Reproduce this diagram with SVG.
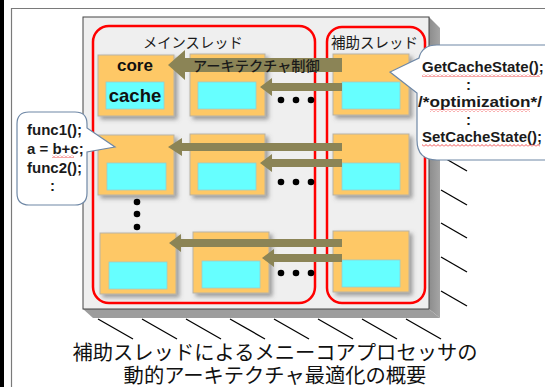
<svg xmlns="http://www.w3.org/2000/svg" width="545" height="387" viewBox="0 0 545 387">
<style>
.core{fill:#fec866;stroke:#b9b3a6;stroke-width:1}
.cache{fill:#66ffff;stroke:#9cc;stroke-width:0.8}
.thr{fill:none;stroke:#ff0000;stroke-width:2.5}
.arr{fill:#8b8456}
.dot{fill:#000}
.hatch{stroke:#000;stroke-width:1.3}
.jp{font-family:"Noto Sans CJK JP","Noto Sans",sans-serif;fill:#1a1a1a}
.code{font-family:"Liberation Sans",Arial,sans-serif;font-weight:bold;font-size:15px;fill:#1a1a1a}
.lbl{font-family:"Liberation Sans",Arial,sans-serif;font-weight:bold;fill:#111}
.call{fill:#fff;stroke:#6f88a6;stroke-width:1.2}
.cap{font-family:"Liberation Serif","Noto Sans CJK JP",serif;font-size:20.3px;fill:#111;text-anchor:middle}
</style>
<defs>
<filter id="sh" x="-20%" y="-20%" width="150%" height="150%">
<feDropShadow dx="3" dy="3" stdDeviation="2" flood-color="#555" flood-opacity="0.55"/>
</filter>
<pattern id="sq" width="4" height="3" patternUnits="userSpaceOnUse">
<path d="M0,2.5 L2,0.5 L4,2.5" stroke="#e22" fill="none" stroke-width="0.8"/>
</pattern>
<linearGradient id="side" x1="0" y1="0" x2="1" y2="0">
<stop offset="0" stop-color="#8c8c8c"/><stop offset="1" stop-color="#a5a5a5"/>
</linearGradient>
</defs>

<rect width="545" height="387" fill="#fff"/>
<rect x="0" y="0" width="4" height="387" fill="#000"/>
<line x1="11" y1="8.5" x2="545" y2="8.5" stroke="#7a7a7a" stroke-width="1.2"/>
<line x1="11.5" y1="8" x2="11.5" y2="387" stroke="#7a7a7a" stroke-width="1.2"/>

<g id="hatching">
<line class="hatch" x1="98" y1="319" x2="133" y2="339"/>
<line class="hatch" x1="142" y1="319" x2="177" y2="339"/>
<line class="hatch" x1="186" y1="319" x2="221" y2="339"/>
<line class="hatch" x1="230" y1="319" x2="265" y2="339"/>
<line class="hatch" x1="274" y1="319" x2="309" y2="339"/>
<line class="hatch" x1="318" y1="319" x2="353" y2="339"/>
<line class="hatch" x1="362" y1="319" x2="397" y2="339"/>
<line class="hatch" x1="406" y1="319" x2="441" y2="339"/>
<line class="hatch" x1="441" y1="156" x2="467" y2="171"/>
<line class="hatch" x1="441" y1="190" x2="467" y2="205"/>
<line class="hatch" x1="441" y1="223" x2="467" y2="238"/>
<line class="hatch" x1="441" y1="257" x2="467" y2="272"/>
<line class="hatch" x1="441" y1="291" x2="467" y2="306"/>
</g>

<g id="chip">
<polygon points="429,17 440,28 440,318 429,309" fill="url(#side)"/>
<polygon points="83,309 429,309 440,318 93,318" fill="#9d9d9d"/>
<rect x="83" y="17" width="346" height="292" fill="#efefef" stroke="#444" stroke-width="1"/>
</g>

<g id="main-thread">
<rect class="thr" x="93" y="26" width="222" height="277" rx="16"/>
<text class="jp" x="143" y="48" font-size="14.3">メインスレッド</text>
</g>
<g id="helper-thread">
<rect class="thr" x="327" y="27" width="98" height="276" rx="15"/>
<text class="jp" x="331" y="48" font-size="14.5">補助スレッド</text>
</g>

<g id="core-m11" filter="url(#sh)">
<rect class="core" x="98" y="55" width="76" height="61"/>
<rect class="cache" x="106" y="82" width="58" height="27"/>
</g>
<text class="lbl" x="135" y="71" font-size="17" text-anchor="middle">core</text>
<text class="lbl" x="135" y="102" font-size="18.5" text-anchor="middle">cache</text>
<g id="core-m12" filter="url(#sh)">
<rect class="core" x="190" y="54" width="75" height="62"/>
<rect class="cache" x="198" y="82" width="58" height="27"/>
</g>
<g id="core-m21" filter="url(#sh)">
<rect class="core" x="98" y="135" width="76" height="60"/>
<rect class="cache" x="107" y="163" width="59" height="27"/>
</g>
<g id="core-m22" filter="url(#sh)">
<rect class="core" x="190" y="134" width="75" height="61"/>
<rect class="cache" x="198" y="163" width="58" height="27"/>
</g>
<g id="core-m31" filter="url(#sh)">
<rect class="core" x="100" y="233" width="76" height="61"/>
<rect class="cache" x="109" y="262" width="58" height="27"/>
</g>
<g id="core-m32" filter="url(#sh)">
<rect class="core" x="193" y="232" width="76" height="61"/>
<rect class="cache" x="202" y="261" width="58" height="27"/>
</g>
<g id="core-h1" filter="url(#sh)">
<rect class="core" x="333" y="54" width="76" height="61"/>
<rect class="cache" x="342" y="82" width="58" height="27"/>
</g>
<g id="core-h2" filter="url(#sh)">
<rect class="core" x="333" y="134" width="76" height="61"/>
<rect class="cache" x="342" y="163" width="58" height="27"/>
</g>
<g id="core-h3" filter="url(#sh)">
<rect class="core" x="333" y="231" width="76" height="61"/>
<rect class="cache" x="342" y="260" width="58" height="27"/>
</g>

<g id="ellipses">
<circle class="dot" cx="281" cy="100" r="3.3"/><circle class="dot" cx="296" cy="100" r="3.3"/><circle class="dot" cx="311" cy="100" r="3.3"/>
<circle class="dot" cx="281" cy="182" r="3.3"/><circle class="dot" cx="296" cy="182" r="3.3"/><circle class="dot" cx="311" cy="182" r="3.3"/>
<circle class="dot" cx="281" cy="273" r="3.3"/><circle class="dot" cx="296" cy="273" r="3.3"/><circle class="dot" cx="311" cy="273" r="3.3"/>
<circle class="dot" cx="137" cy="202" r="3.3"/><circle class="dot" cx="137" cy="214" r="3.3"/><circle class="dot" cx="137" cy="227" r="3.3"/>
</g>

<g id="connectors">
<polygon class="arr" points="342,58 185,58 185,50 168,65 185,80 185,72 342,72"/>
<polygon class="arr" points="342,83 272,83 272,78 260,87 272,96 272,91 342,91"/>
<polygon class="arr" points="342,143 182,143 182,138 168,147 182,156 182,151 342,151"/>
<polygon class="arr" points="342,159 272,159 272,154 260,163 272,172 272,167 342,167"/>
<polygon class="arr" points="342,239 181,239 181,234 169,243 181,252 181,247 342,247"/>
<polygon class="arr" points="342,254 274,254 274,249 262,258 274,267 274,262 342,262"/>
<text class="jp" x="193" y="71" font-size="14.2" font-weight="500">アーキテクチャ制御</text>
</g>

<g id="callout-main">
<path class="call" d="M29,112 H75 Q87,112 87,124 V128 L115,147 L87,152 V193 Q87,205 75,205 H29 Q17,205 17,193 V124 Q17,112 29,112 Z"/>
<text class="code" x="27" y="135">func1();</text>
<text class="code" x="27" y="154">a = b+c;</text>
<rect x="52" y="155" width="22" height="3" fill="url(#sq)"/>
<text class="code" x="27" y="173">func2();</text>
<text class="code" x="50" y="191">:</text>
</g>

<g id="callout-helper">
<path class="call" d="M437,45 H560 V160 H437 Q417,160 417,140 V93 L390,72 L419,58 Q422,45 437,45 Z"/>
<text class="code" x="422" y="72">GetCacheState();</text>
<rect x="422" y="74" width="118" height="3" fill="url(#sq)"/>
<text class="code" x="466" y="90">:</text>
<text class="code" x="418" y="107" textLength="124" lengthAdjust="spacingAndGlyphs">/*optimization*/</text>
<rect x="430" y="109" width="100" height="3" fill="url(#sq)"/>
<text class="code" x="466" y="125">:</text>
<text class="code" x="422" y="142">SetCacheState();</text>
<rect x="422" y="144" width="118" height="3" fill="url(#sq)"/>
</g>

<g id="caption">
<text class="cap" x="275" y="360">補助スレッドによるメニーコアプロセッサの</text>
<text class="cap" x="275" y="383">動的アーキテクチャ最適化の概要</text>
</g>
</svg>
